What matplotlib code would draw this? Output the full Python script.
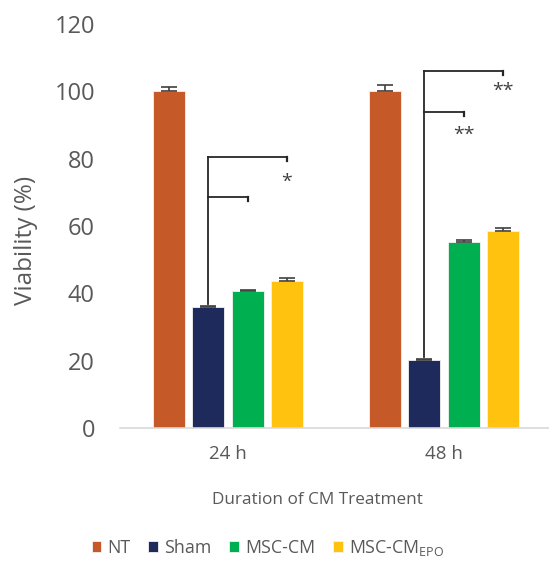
import numpy as np
import matplotlib
matplotlib.use("Agg")
import matplotlib.pyplot as plt

# data
groups = ["24 h", "48 h"]
series = ["NT", "Sham", "MSC-CM", "MSC-CM$_{\\mathregular{EPO}}$"]
values = {
    "NT": [100.0, 100.0],
    "Sham": [35.9, 20.2],
    "MSC-CM": [40.7, 55.2],
    "MSC-CM$_{\\mathregular{EPO}}$": [43.6, 58.4],
}
errors = {
    "NT": [1.3, 1.8],
    "Sham": [0.3, 0.3],
    "MSC-CM": [0.3, 0.7],
    "MSC-CM$_{\\mathregular{EPO}}$": [1.0, 0.9],
}
colors = ["#C55A28", "#1F2A5C", "#00B050", "#FFC20E"]

# significance brackets: (group, top of long arm, top of short arm, labels, label heights)
brackets = [
    (0, 80.4, 68.5, ["*"], [73.0]),
    (1, 106.0, 93.8, ["**", "**"], [100.0, 87.0]),
]

plt.rcParams["font.family"] = ["Open Sans", "DejaVu Sans"]
plt.rcParams["mathtext.default"] = "regular"
text_col = "#595959"

fig = plt.figure(figsize=(5.49, 5.65), dpi=100)
ax = fig.add_axes([120 / 549, 1 - 428 / 565, 432 / 549, 404 / 565])

x = np.arange(len(groups))
step = 0.181
width = 0.148
offsets = (np.arange(len(series)) - 1.5) * step

for i, name in enumerate(series):
    ax.bar(x + offsets[i], values[name], width, color=colors[i],
           edgecolor="#f2f2f2", linewidth=0.6, label=name, zorder=2)
    ax.errorbar(x + offsets[i], values[name], yerr=[[0, 0], errors[name]],
                fmt="none", ecolor="#404040", elinewidth=1.2, capsize=5.5,
                capthick=1.2, zorder=3)

# brackets from Sham to MSC-CM and MSC-CM_EPO
for g, top, mid, labels, ly in brackets:
    xs = g + offsets[1]
    base = values["Sham"][g] + 1.0
    lc = "#262626"
    ax.plot([xs, xs], [base, top], color=lc, lw=1.3, zorder=4)
    ax.plot([xs, g + offsets[3]], [top, top], color=lc, lw=1.3, zorder=4)
    ax.plot([g + offsets[3]] * 2, [top, top - 1.0], color=lc, lw=1.6, zorder=4)
    ax.plot([xs, g + offsets[2]], [mid, mid], color=lc, lw=1.3, zorder=4)
    ax.plot([g + offsets[2]] * 2, [mid, mid - 1.0], color=lc, lw=1.6, zorder=4)
    ax.text(g + offsets[3], ly[0], labels[0], ha="center", va="center",
            fontsize=14, color="#404040")
    if len(labels) > 1:
        ax.text(g + offsets[2], ly[1], labels[1], ha="center", va="center",
                fontsize=14, color="#404040")

ax.set_xlim(-0.5, 1.5)
ax.set_ylim(0, 120)
ax.set_yticks(range(0, 121, 20))
ax.set_xticks(x)
ax.set_xticklabels(groups)
ax.tick_params(axis="y", length=0, labelsize=17, colors=text_col, pad=18)
ax.tick_params(axis="x", length=0, labelsize=13.5, colors=text_col, pad=12)
for s in ["top", "right", "left"]:
    ax.spines[s].set_visible(False)
ax.spines["bottom"].set_color("#D9D9D9")
ax.spines["bottom"].set_linewidth(1.2)

ax.set_ylabel("Viability (%)", fontsize=17.5, color=text_col)
ax.yaxis.set_label_coords(-0.19, 0.465)
ax.set_xlabel("Duration of CM Treatment", fontsize=12.3, color=text_col)
ax.xaxis.set_label_coords(0.456, -0.158)

leg = fig.legend(loc="center", bbox_to_anchor=(268 / 549, 1 - 548 / 565), ncol=4,
                 frameon=False, fontsize=12.8, handlelength=0.56, handleheight=0.56,
                 handletextpad=0.34, columnspacing=1.0)
for t in leg.get_texts():
    t.set_color(text_col)

fig.savefig("out.png", dpi=100)
